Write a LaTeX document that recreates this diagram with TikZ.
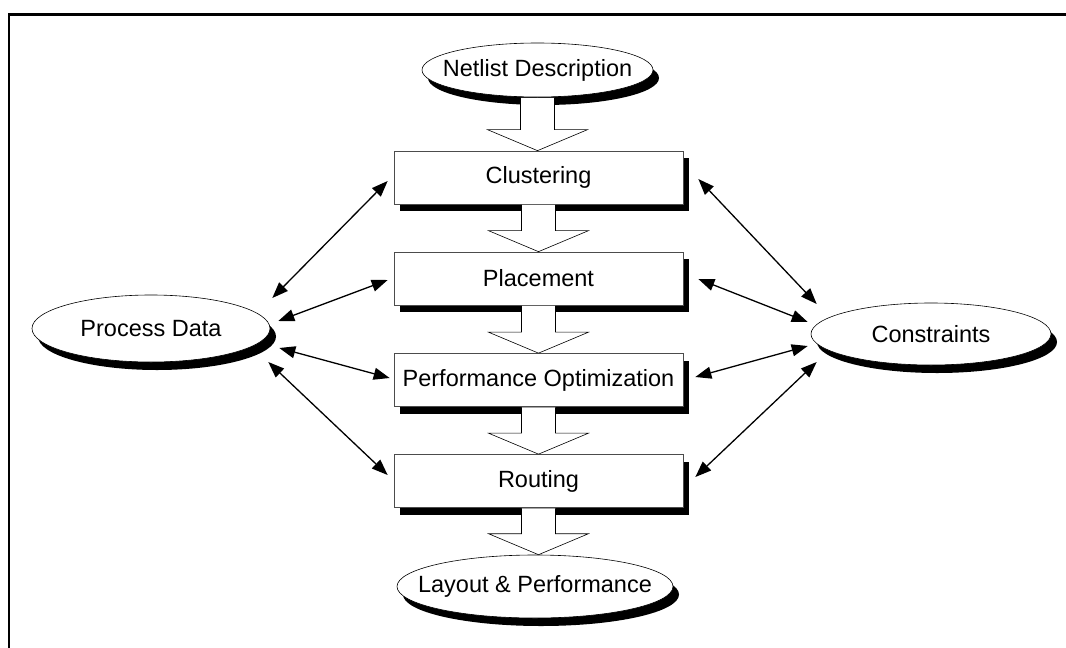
\documentclass[tikz,border=0pt]{standalone}
\usepackage{fontspec}
\setmainfont{Liberation Sans}
\usetikzlibrary{shapes.geometric,shadows,arrows.meta,calc}

% hollow block arrow from the bottom of one node to the top of the next
\newcommand\blockflow[2]{%
  \draw[flow] let \p1=(#1.south), \p2=(#2.north) in
    (\x1-17pt,\y1-0.5pt) -- (\x1-17pt,\y2+21pt) -- (\x1-50pt,\y2+21pt) --
    (\x1,\y2) -- (\x1+50pt,\y2+21pt) -- (\x1+17pt,\y2+21pt) -- (\x1+17pt,\y1-0.5pt);}

\begin{document}
\begin{tikzpicture}[x=1pt,y=-1pt,
  label font/.style={font=\fontsize{23.5}{28}\selectfont},
  stage/.style={draw=black!70, line width=0.7pt, fill=white,
    minimum width=289pt, minimum height=53pt, inner sep=0pt, label font,
    drop shadow={shadow xshift=6pt, shadow yshift=-7pt, fill=black, opacity=1}},
  datum/.style={ellipse, draw=black, line width=0.6pt, fill=white,
    inner sep=0pt, label font,
    drop shadow={shadow xshift=6pt, shadow yshift=-8pt, fill=black, opacity=1}},
  flow/.style={draw=black, line width=0.6pt, fill=white, line join=miter},
  link/.style={line width=1.3pt,
    {Triangle[length=16pt,width=12pt]}-{Triangle[length=16pt,width=12pt]}},
  frame/.style={line width=2.4pt, line join=miter}
]
\useasboundingbox (0,0) rectangle (1066,648);
\draw[frame] (8.8,648) -- (8.8,14.3) -- (1066,14.3);

% inputs, outputs and side data
\node[datum, minimum width=231pt, minimum height=54pt] (net) at (537.5,70)
  {\makebox[0pt]{Netlist Description}};
\node[datum, minimum width=276pt, minimum height=63pt] (lay) at (535,586.5)
  {\makebox[0pt]{Layout \& Performance}};
\node[datum, minimum width=238pt, minimum height=67pt] (pd) at (151,328.5)
  {\makebox[0pt]{Process Data}};
\node[datum, minimum width=240pt, minimum height=62pt] (con) at (931,334)
  {\makebox[0pt]{Constraints}};

% design stages
\node[stage] (clu) at (538.5,177.5) {Clustering};
\node[stage] (pla) at (538.5,278.5) {Placement};
\node[stage] (opt) at (538.5,380) {Performance Optimization};
\node[stage] (rou) at (538.5,481) {Routing};

% main flow
\blockflow{net}{clu}
\blockflow{clu}{pla}
\blockflow{pla}{opt}
\blockflow{opt}{rou}
\blockflow{rou}{lay}

% process data exchanges
\draw[link] ($(pd.east)+(2,-30.5)$) -- ($(clu.west)+(-6,3.5)$);
\draw[link] ($(pd.east)+(8,-7.5)$) -- ($(pla.west)+(-6,1.5)$);
\draw[link] ($(pd.east)+(9,19.5)$) -- ($(opt.west)+(-4,-2)$);
\draw[link] ($(pd.east)+(-2,33.5)$) -- ($(rou.west)+(-6,-6)$);

% constraint exchanges
\draw[link] ($(clu.east)+(15,1.5)$) -- ($(con.west)+(6,-30)$);
\draw[link] ($(pla.east)+(15,0.5)$) -- ($(con.west)+(-3,-12)$);
\draw[link] ($(opt.east)+(12,-3)$) -- ($(con.west)+(-3,12)$);
\draw[link] ($(rou.east)+(12,-4)$) -- ($(con.west)+(6,28)$);
\end{tikzpicture}
\end{document}
